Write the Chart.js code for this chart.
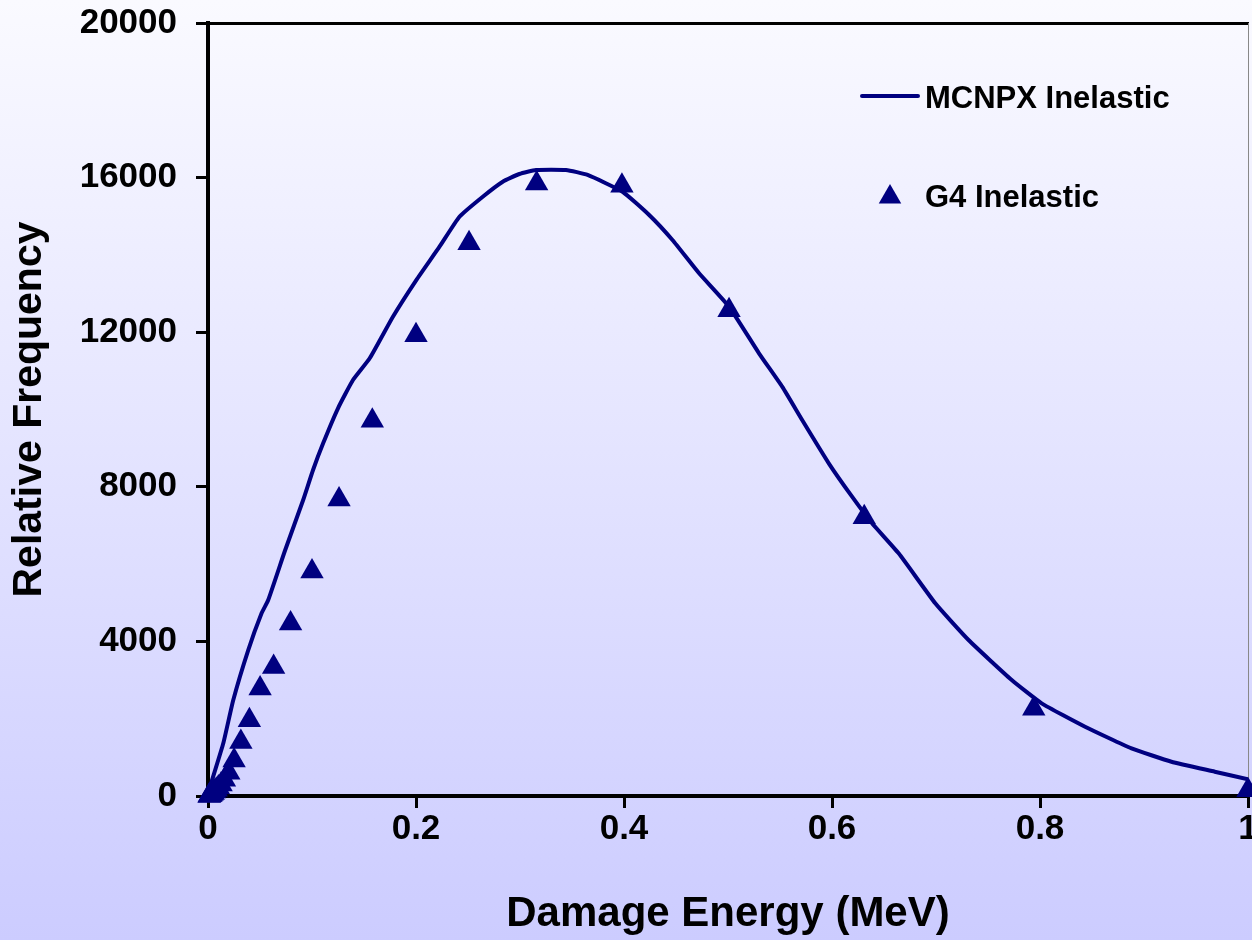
<!DOCTYPE html>
<html>
<head>
<meta charset="utf-8">
<title>Relative Frequency vs Damage Energy</title>
<script src="https://cdn.jsdelivr.net/npm/chart.js@4.4.1/dist/chart.umd.min.js"></script>
<style>
  html, body { margin: 0; padding: 0; overflow: hidden; }
  #wrap {
    position: relative;
    width: 1280px;
    height: 940px;
    background: linear-gradient(to bottom, #fafaff 0%, #ccccff 100%);
  }
</style>
</head>
<body>
<div id="wrap"><canvas id="damage-chart"></canvas></div>
<script>
// MCNPX inelastic curve
const mcnpxEnergy = [0, 0.0019, 0.0147, 0.0243, 0.0387, 0.0515, 0.0579, 0.0739, 0.0915, 0.101,
    0.1107, 0.125, 0.1394, 0.1555, 0.1778, 0.2003, 0.2226, 0.2418, 0.2642, 0.2834,
    0.2994, 0.3154, 0.3442, 0.365, 0.3986, 0.4242, 0.4466, 0.4722, 0.501, 0.5298,
    0.5521, 0.5713, 0.5969, 0.6193, 0.6385, 0.6641, 0.6993, 0.7313, 0.7728, 0.8016,
    0.8433, 0.888, 0.9264, 0.968, 1.0];
const mcnpxFreq = [0, 233, 1364, 2484, 3777, 4727, 5071, 6339, 7658, 8435,
    9125, 10031, 10763, 11325, 12401, 13350, 14212, 14988, 15506, 15894,
    16093, 16197, 16197, 16068, 15635, 15032, 14385, 13524, 12660, 11454,
    10590, 9728, 8608, 7744, 7056, 6279, 4986, 4036, 3001, 2398,
    1793, 1234, 887, 629, 432];

// G4 inelastic points
const g4Energy = [0.001, 0.00126, 0.00158, 0.002, 0.00251, 0.00316, 0.00398, 0.00501, 0.00631, 0.00794,
    0.01, 0.0126, 0.0158, 0.02, 0.0251, 0.0316, 0.0398, 0.0501, 0.0631, 0.0794,
    0.1, 0.126, 0.158, 0.2, 0.251, 0.316, 0.398, 0.501, 0.631, 0.794, 1.0];
const g4Freq = [5, 8, 12, 18, 26, 38, 55, 80, 115, 160,
    220, 300, 420, 600, 920, 1400, 1960, 2780, 3340, 4460,
    5810, 7670, 9710, 11920, 14300, 15850, 15790, 12570, 7210, 2260, 150];

const xTicks = [0, 0.2, 0.4, 0.6, 0.8, 1];
const yTicks = [0, 4000, 8000, 12000, 16000, 20000];

const navy = '#000080';
const fontFamily = '"Liberation Sans", Arial, sans-serif';

Chart.defaults.font.family = fontFamily;
Chart.defaults.font.weight = 'bold';
Chart.defaults.color = '#000';

function toPoints(xs, ys) {
    return xs.map((x, i) => ({ x: x, y: ys[i] }));
}

// legend drawn inside the plot area, like the original
const insideLegend = {
    id: 'insideLegend',
    afterDraw(chart) {
        const ctx = chart.ctx;
        const line = chart.data.datasets[0];
        const pts = chart.data.datasets[1];
        ctx.save();
        ctx.font = 'bold 31px ' + fontFamily;
        ctx.textBaseline = 'middle';
        ctx.textAlign = 'left';

        ctx.strokeStyle = line.borderColor;
        ctx.lineWidth = line.borderWidth;
        ctx.lineCap = 'round';
        ctx.beginPath();
        ctx.moveTo(862, 96);
        ctx.lineTo(918, 96);
        ctx.stroke();
        ctx.fillStyle = '#000';
        ctx.fillText(line.label, 925, 99);

        ctx.fillStyle = pts.backgroundColor;
        Chart.helpers.drawPoint(ctx, { pointStyle: 'triangle', radius: 13, borderWidth: 0, rotation: 0 }, 890, 197);
        ctx.fillStyle = '#000';
        ctx.fillText(pts.label, 925, 198);
        ctx.restore();
    }
};

new Chart(document.getElementById('damage-chart'), {
    type: 'scatter',
    data: {
        datasets: [{
            label: 'MCNPX Inelastic',
            data: toPoints(mcnpxEnergy, mcnpxFreq),
            showLine: true,
            borderColor: navy,
            backgroundColor: navy,
            borderWidth: 4,
            pointRadius: 0,
            tension: 0.15,
            borderJoinStyle: 'round'
        }, {
            label: 'G4 Inelastic',
            data: toPoints(g4Energy, g4Freq),
            showLine: false,
            pointStyle: 'triangle',
            pointRadius: 13.5,
            backgroundColor: navy,
            borderColor: navy,
            borderWidth: 0,
            clip: false
        }]
    },
    options: {
        responsive: true,
        maintainAspectRatio: false,
        animation: false,
        layout: {
            padding: { left: 0, top: 23, right: 32, bottom: 0 }
        },
        plugins: {
            legend: { display: false },
            tooltip: { enabled: false }
        },
        scales: {
            x: {
                type: 'linear',
                position: 'bottom',
                min: 0,
                max: 1,
                afterBuildTicks: s => { s.ticks = xTicks.map(v => ({ value: v })); },
                afterFit: s => { s.height = 144; s.paddingLeft = 0; s.paddingRight = 0; },
                ticks: {
                    font: { size: 35, weight: 'bold' },
                    color: '#000',
                    padding: 0,
                    maxRotation: 0,
                    autoSkip: false,
                    callback: v => String(v)
                },
                grid: {
                    drawOnChartArea: false,
                    drawTicks: true,
                    tickLength: 12,
                    color: '#000',
                    lineWidth: 3
                },
                border: { color: '#000', width: 4 },
                title: {
                    display: true,
                    text: 'Damage Energy (MeV)',
                    font: { size: 42, weight: 'bold' },
                    color: '#000',
                    padding: 0
                }
            },
            y: {
                type: 'linear',
                position: 'left',
                min: 0,
                max: 20000,
                afterBuildTicks: s => { s.ticks = yTicks.map(v => ({ value: v })); },
                afterFit: s => { s.width = 208; s.paddingTop = 0; s.paddingBottom = 0; },
                ticks: {
                    font: { size: 35, weight: 'bold' },
                    color: '#000',
                    padding: 19,
                    autoSkip: false,
                    callback: v => String(v)
                },
                grid: {
                    drawOnChartArea: false,
                    drawTicks: true,
                    tickLength: 12,
                    color: '#000',
                    lineWidth: 3
                },
                border: { color: '#000', width: 4 },
                title: {
                    display: true,
                    text: 'Relative Frequency',
                    font: { size: 41, weight: 'bold' },
                    color: '#000',
                    padding: { top: 5, bottom: 0 }
                }
            },
            x2: {
                type: 'linear',
                position: 'top',
                min: 0,
                max: 1,
                ticks: { display: false },
                grid: { drawOnChartArea: false, drawTicks: false },
                border: { color: '#000', width: 3 },
                afterFit: s => { s.height = 0; s.paddingLeft = 0; s.paddingRight = 0; }
            },
            y2: {
                type: 'linear',
                position: 'right',
                min: 0,
                max: 20000,
                ticks: { display: false },
                grid: { drawOnChartArea: false, drawTicks: false },
                border: { color: '#888', width: 1 },
                afterFit: s => { s.width = 0; s.paddingTop = 0; s.paddingBottom = 0; }
            }
        }
    },
    plugins: [insideLegend]
});
</script>
</body>
</html>
